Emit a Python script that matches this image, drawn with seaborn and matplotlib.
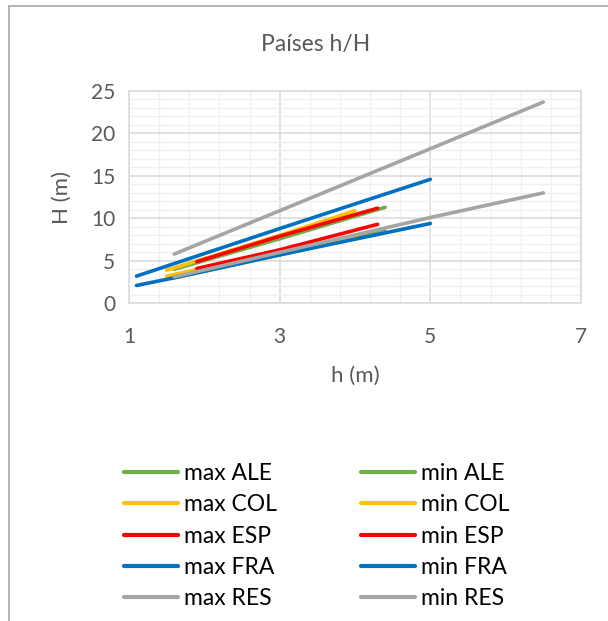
import matplotlib
matplotlib.use("Agg")
import matplotlib.pyplot as plt
from matplotlib.lines import Line2D
from matplotlib.ticker import MultipleLocator
import seaborn as sns
import pandas as pd

# ---- data ----
series_names = ["max ALE", "min ALE", "max COL", "min COL", "max ESP",
                "min ESP", "max FRA", "min FRA", "max RES", "min RES"]
h_max_ALE = [1.6, 3.0, 4.4]
H_max_ALE = [4.0, 7.6, 11.3]
h_min_ALE = [1.6, 3.0, 4.4]
H_min_ALE = [3.0, 5.7, 8.5]
h_max_COL = [1.5, 3.0, 4.0]
H_max_COL = [3.9, 8.0, 10.9]
h_min_COL = [1.5, 3.0, 4.0]
H_min_COL = [3.2, 6.1, 7.9]
h_max_ESP = [1.9, 3.0, 4.3]
H_max_ESP = [4.9, 7.9, 11.2]
h_min_ESP = [1.9, 3.0, 4.3]
H_min_ESP = [4.1, 6.3, 9.3]
h_max_FRA = [1.1, 3.0, 5.0]
H_max_FRA = [3.2, 8.8, 14.6]
h_min_FRA = [1.1, 1.6, 3.0, 5.0]
H_min_FRA = [2.1, 3.0, 5.7, 9.4]
h_max_RES = [1.6, 3.0, 5.0, 6.5]
H_max_RES = [5.8, 10.9, 18.2, 23.7]
h_min_RES = [1.6, 3.0, 5.0, 6.5]
H_min_RES = [3.1, 6.0, 10.1, 13.0]

x_ticks = [1, 3, 5, 7]
y_ticks = [0, 5, 10, 15, 20, 25]

colors = ["#70AD47", "#70AD47", "#FFC000", "#FFC000", "#FF0000",
          "#FF0000", "#0070C0", "#0070C0", "#A5A5A5", "#A5A5A5"]

xs = [h_max_ALE, h_min_ALE, h_max_COL, h_min_COL, h_max_ESP,
      h_min_ESP, h_max_FRA, h_min_FRA, h_max_RES, h_min_RES]
ys = [H_max_ALE, H_min_ALE, H_max_COL, H_min_COL, H_max_ESP,
      H_min_ESP, H_max_FRA, H_min_FRA, H_max_RES, H_min_RES]

rows = []
for name, xv, yv in zip(series_names, xs, ys):
    for a, b in zip(xv, yv):
        rows.append({"serie": name, "h": a, "H": b})
df = pd.DataFrame(rows)

sns.set_style("white")
plt.rcParams["font.family"] = ["Lato", "DejaVu Sans"]

W, Hpx = 608, 621
fig = plt.figure(figsize=(W / 100, Hpx / 100), dpi=100)
ax = fig.add_axes([129 / W, 1 - 303.3 / Hpx, (581 - 129) / W, (303.3 - 91) / Hpx])

palette = dict(zip(series_names, colors))
sns.lineplot(data=df, x="h", y="H", hue="serie", hue_order=series_names,
             palette=palette, linewidth=2.6, sort=False, estimator=None,
             legend=False, ax=ax, solid_capstyle="round")

ax.set_xlim(x_ticks[0], x_ticks[-1])
ax.set_ylim(y_ticks[0], y_ticks[-1])
ax.set_xticks(x_ticks)
ax.set_yticks(y_ticks)
ax.xaxis.set_minor_locator(MultipleLocator(0.4, offset=0.2))
ax.yaxis.set_minor_locator(MultipleLocator(1))
ax.grid(which="major", color="#D9D9D9", linewidth=1.1)
ax.grid(which="minor", color="#F0F0F0", linewidth=1.0)
ax.set_axisbelow(True)
for s in ax.spines.values():
    s.set_color("#D9D9D9")
    s.set_linewidth(1.1)
ax.tick_params(which="both", length=0, labelsize=15, colors="#595959")
ax.tick_params(axis="x", pad=17)
ax.tick_params(axis="y", pad=10)

ax.set_xlabel("h (m)", fontsize=16, color="#595959", labelpad=14)
ax.set_ylabel("H (m)", fontsize=16, color="#595959", labelpad=14)
fig.text(316 / W, 1 - 44 / Hpx, "Países h/H", ha="center", va="center",
         fontsize=16.5, color="#595959")

handles = [Line2D([0], [0], color=c, linewidth=3) for c in colors]
order = [0, 2, 4, 6, 8, 1, 3, 5, 7, 9]
leg = fig.legend([handles[i] for i in order], [series_names[i] for i in order],
                 ncol=2, loc="upper left", bbox_to_anchor=(124 / W, 1 - 463 / Hpx),
                 frameon=False, fontsize=16.5, handlelength=2.35, handletextpad=0.25,
                 columnspacing=3.7, labelspacing=0.45, borderaxespad=0,
                 borderpad=0)
for t in leg.get_texts():
    t.set_color("#000000")

# chart frame (left and top edges visible)
fig.add_artist(Line2D([8.5 / W, 8.5 / W], [0, 1 - 5.5 / Hpx], color="#A6A6A6", linewidth=1.2))
fig.add_artist(Line2D([8.5 / W, 1], [1 - 5.5 / Hpx, 1 - 5.5 / Hpx], color="#A6A6A6", linewidth=1.2))

fig.savefig("out.png", dpi=100)
